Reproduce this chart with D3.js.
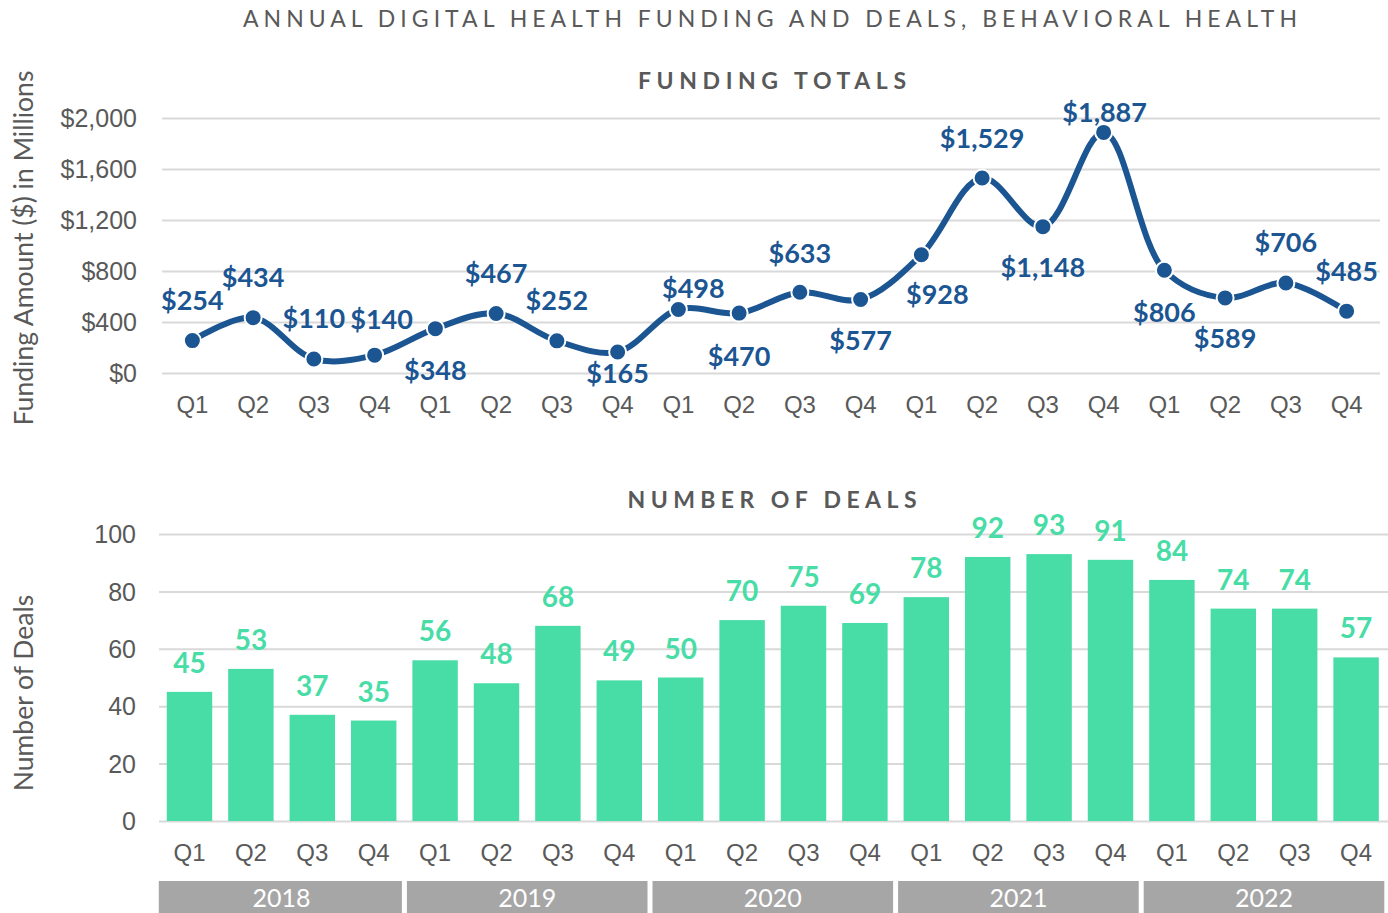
<!DOCTYPE html>
<html>
<head>
<meta charset="utf-8">
<script src="https://cdn.jsdelivr.net/npm/d3@7"></script>
<style>
  html, body { margin: 0; padding: 0; background: #fff; }
  svg { display: block; font-family: Lato, "Open Sans", sans-serif; }
</style>
</head>
<body>
<svg id="chart" width="1388" height="913"></svg>
<script>
// ---- data ----
const years = ["2018", "2019", "2020", "2021", "2022"];
const quarters = ["Q1", "Q2", "Q3", "Q4"];
const periods = years.flatMap(y => quarters.map(q => y + " " + q));
const funding = [254, 434, 110, 140, 348, 467, 252, 165, 498, 470, 633, 577, 928, 1529, 1148, 1887, 806, 589, 706, 485];
const deals = [45, 53, 37, 35, 56, 48, 68, 49, 50, 70, 75, 69, 78, 92, 93, 91, 84, 74, 74, 57];
const fundingTicks = [0, 400, 800, 1200, 1600, 2000];
const dealTicks = [0, 20, 40, 60, 80, 100];

// label nudges (px) for the funding value labels, relative to each point
const fundingLabelNudge = [
  [0, -41], [0, -41], [0, -41], [7, -37], [0, 41], [0, -41], [0, -41], [0, 21],
  [15, -22], [0, 42], [0, -40], [0, 40], [16, 39], [0, -41], [0, 40], [1, -21],
  [0, 41], [0, 40], [0, -41], [0, -41]
];

const svg = d3.select("#chart");
const grey = "#595959";
const gridColor = "#d9d9d9";
const blue = "#1b5592";
const green = "#48dca6";
const tickSize = 25;

// ---- titles ----
svg.append("text")
  .attr("x", 770).attr("y", 18)
  .attr("text-anchor", "middle").attr("dominant-baseline", "central")
  .attr("textLength", 1054).attr("lengthAdjust", "spacing")
  .attr("font-size", 23).attr("fill", grey)
  .text("ANNUAL DIGITAL HEALTH FUNDING AND DEALS, BEHAVIORAL HEALTH");

svg.append("text")
  .attr("x", 772).attr("y", 80)
  .attr("text-anchor", "middle").attr("dominant-baseline", "central")
  .attr("textLength", 268).attr("lengthAdjust", "spacing")
  .attr("font-size", 23).attr("font-weight", 700).attr("fill", grey)
  .text("FUNDING TOTALS");

svg.append("text")
  .attr("x", 772).attr("y", 499)
  .attr("text-anchor", "middle").attr("dominant-baseline", "central")
  .attr("textLength", 289).attr("lengthAdjust", "spacing")
  .attr("font-size", 23).attr("font-weight", 700).attr("fill", grey)
  .text("NUMBER OF DEALS");

// ---- funding line chart ----
const x1 = d3.scaleBand().domain(periods).range([162, 1377]);
const y1 = d3.scaleLinear().domain([0, 2000]).range([373, 118]);

const g1 = svg.append("g");

// gridlines
g1.append("g")
  .attr("transform", "translate(162,0)")
  .call(d3.axisLeft(y1).tickValues(fundingTicks).tickSize(-(1380 - 162)).tickFormat(""))
  .call(g => g.select(".domain").remove())
  .call(g => g.selectAll(".tick line").attr("stroke", gridColor).attr("stroke-width", 2));

// y tick labels
g1.append("g")
  .attr("transform", "translate(137,0)")
  .call(d3.axisLeft(y1).tickValues(fundingTicks).tickSize(0).tickPadding(0)
    .tickFormat(d => "$" + d3.format(",")(d)))
  .call(g => g.select(".domain").remove())
  .call(g => g.selectAll("text").attr("font-size", tickSize).attr("fill", grey)
    .attr("font-family", null).attr("dy", "0.35em"));

// x tick labels
g1.append("g")
  .attr("transform", "translate(0,405)")
  .call(d3.axisBottom(x1).tickSize(0).tickPadding(0).tickFormat(d => d.split(" ")[1]))
  .call(g => g.select(".domain").remove())
  .call(g => g.selectAll("text").attr("font-size", 24).attr("fill", grey)
    .attr("font-family", null).attr("dy", "0.35em"));

// y axis title
svg.append("text")
  .attr("transform", "translate(23,248) rotate(-90)")
  .attr("text-anchor", "middle").attr("dominant-baseline", "central")
  .attr("font-size", 26.5).attr("fill", grey)
  .text("Funding Amount ($) in Millions");

const cx = d => x1(d) + x1.bandwidth() / 2;
const line = d3.line()
  .x((d, i) => cx(periods[i]))
  .y(d => y1(d))
  .curve(d3.curveCatmullRom.alpha(0.5));

g1.append("path")
  .datum(funding)
  .attr("d", line)
  .attr("fill", "none")
  .attr("stroke", blue)
  .attr("stroke-width", 6)
  .attr("stroke-linecap", "round");

g1.selectAll("circle.pt")
  .data(funding)
  .join("circle")
  .attr("class", "pt")
  .attr("cx", (d, i) => cx(periods[i]))
  .attr("cy", d => y1(d))
  .attr("r", 8.5)
  .attr("fill", blue)
  .attr("stroke", "#fff")
  .attr("stroke-width", 2);

g1.selectAll("text.val")
  .data(funding)
  .join("text")
  .attr("class", "val")
  .attr("x", (d, i) => cx(periods[i]) + fundingLabelNudge[i][0])
  .attr("y", (d, i) => y1(d) + fundingLabelNudge[i][1])
  .attr("text-anchor", "middle").attr("dominant-baseline", "central")
  .attr("font-size", 27).attr("font-weight", 700).attr("fill", blue)
  .text(d => "$" + d3.format(",")(d));

// ---- deals bar chart ----
const x2 = d3.scaleBand().domain(periods).range([158.8, 1386.8]).paddingInner(0.26).paddingOuter(0.13);
const y2 = d3.scaleLinear().domain([0, 100]).range([821, 534]);
const g2 = svg.append("g");

g2.append("g")
  .attr("transform", "translate(159,0)")
  .call(d3.axisLeft(y2).tickValues(dealTicks).tickSize(-(1388 - 159)).tickFormat(""))
  .call(g => g.select(".domain").remove())
  .call(g => g.selectAll(".tick line").attr("stroke", gridColor).attr("stroke-width", 2));

g2.append("g")
  .attr("transform", "translate(136,0)")
  .call(d3.axisLeft(y2).tickValues(dealTicks).tickSize(0).tickPadding(0))
  .call(g => g.select(".domain").remove())
  .call(g => g.selectAll("text").attr("font-size", tickSize).attr("fill", grey)
    .attr("font-family", null).attr("dy", "0.35em"));

svg.append("text")
  .attr("transform", "translate(23,693) rotate(-90)")
  .attr("text-anchor", "middle").attr("dominant-baseline", "central")
  .attr("font-size", 26.5).attr("fill", grey)
  .text("Number of Deals");

g2.selectAll("rect.bar")
  .data(deals)
  .join("rect")
  .attr("class", "bar")
  .attr("x", (d, i) => x2(periods[i]))
  .attr("y", d => y2(d))
  .attr("width", x2.bandwidth())
  .attr("height", d => y2(0) - y2(d))
  .attr("fill", green);

g2.selectAll("text.val")
  .data(deals)
  .join("text")
  .attr("class", "val")
  .attr("x", (d, i) => x2(periods[i]) + x2.bandwidth() / 2)
  .attr("y", d => y2(d) - 30)
  .attr("text-anchor", "middle").attr("dominant-baseline", "central")
  .attr("font-size", 28).attr("font-weight", 700).attr("fill", green)
  .text(d => d);

g2.append("g")
  .attr("transform", "translate(0,853)")
  .call(d3.axisBottom(x2).tickSize(0).tickPadding(0).tickFormat(d => d.split(" ")[1]))
  .call(g => g.select(".domain").remove())
  .call(g => g.selectAll("text").attr("font-size", 24).attr("fill", grey)
    .attr("font-family", null).attr("dy", "0.35em"));

// year bands beneath the quarter labels
const yearBand = d3.scaleBand().domain(years).range([158.8, 1386.8]);
const yg = svg.append("g").selectAll("g").data(years).join("g");
yg.append("rect")
  .attr("x", (d, i) => yearBand(d) + (i === 0 ? 0 : 2.5))
  .attr("y", 881)
  .attr("width", (d, i) => yearBand.bandwidth() - (i === 0 ? 2.5 : 5))
  .attr("height", 32)
  .attr("fill", "#a6a6a6");
yg.append("text")
  .attr("x", d => yearBand(d) + yearBand.bandwidth() / 2)
  .attr("y", 897)
  .attr("text-anchor", "middle").attr("dominant-baseline", "central")
  .attr("font-size", 25).attr("fill", "#fff")
  .text(d => d);
</script>
</body>
</html>
